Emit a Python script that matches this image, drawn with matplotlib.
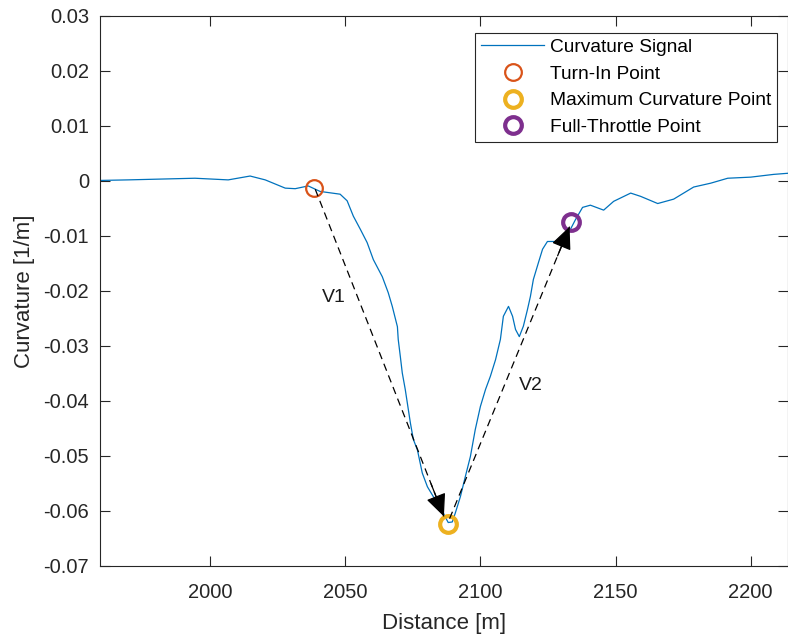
import matplotlib as mpl
mpl.use('Agg')
import matplotlib.pyplot as plt
import numpy as np

plt.rcParams['font.family'] = ['Liberation Sans', 'DejaVu Sans']

# curvature signal
distance = [1959.3, 1969.6, 1994.4, 2006.7, 2014.8, 2020.4, 2027.8, 2031.5, 2036.3, 2040.7,
            2048.1, 2050.7, 2053.0, 2055.6, 2058.1, 2060.4, 2063.7, 2065.9, 2067.4, 2069.3,
            2069.6, 2070.4, 2071.1, 2072.2, 2074.1, 2075.2, 2076.7, 2078.5, 2080.4, 2082.6,
            2085.2, 2087.0, 2088.1, 2089.6, 2090.7, 2092.6, 2094.4, 2096.3, 2098.1, 2100.0,
            2101.9, 2103.7, 2105.6, 2107.4, 2108.5, 2110.4, 2111.9, 2113.0, 2114.4, 2115.9,
            2117.4, 2118.5, 2119.6, 2121.5, 2123.0, 2124.8, 2127.8, 2129.6, 2131.5, 2133.3,
            2135.2, 2137.8, 2140.7, 2145.6, 2149.3, 2155.6, 2159.3, 2165.6, 2171.5, 2178.9,
            2185.2, 2191.5, 2200.0, 2208.5, 2213.7]
curvature = [0.0001, 0.0002, 0.0005, 0.0002, 0.0009, 0.0002, -0.0013, -0.0014, -0.0009, -0.0019,
             -0.0024, -0.0036, -0.0064, -0.0088, -0.0112, -0.0143, -0.0174, -0.0203, -0.0228, -0.0265,
             -0.0288, -0.0320, -0.0349, -0.0379, -0.0440, -0.0470, -0.0489, -0.0531, -0.0556, -0.0574,
             -0.0592, -0.0611, -0.0621, -0.0620, -0.0604, -0.0574, -0.0538, -0.0501, -0.0452, -0.0410,
             -0.0379, -0.0355, -0.0325, -0.0288, -0.0246, -0.0228, -0.0246, -0.0270, -0.0283, -0.0264,
             -0.0234, -0.0210, -0.0179, -0.0148, -0.0124, -0.0110, -0.0110, -0.0106, -0.0101, -0.0088,
             -0.0070, -0.0048, -0.0044, -0.0053, -0.0037, -0.0022, -0.0028, -0.0041, -0.0033, -0.0011,
             -0.0004, 0.0005, 0.0007, 0.0012, 0.0014]

turn_in = (2038.5, -0.0013)
max_curv = (2088.1, -0.0624)
full_throttle = (2133.7, -0.0075)

# vectors (start, tip) and their labels
v1 = [(2038.9, -0.0015), (2086.5, -0.0610)]
v2 = [(2088.6, -0.0614), (2133.0, -0.0083)]
vec_labels = ['V1', 'V2']
vec_label_pos = [(2045.6, -0.0212), (2118.5, -0.0371)]

xticks = [2000, 2050, 2100, 2150, 2200]
yticks = [0.03, 0.02, 0.01, 0, -0.01, -0.02, -0.03, -0.04, -0.05, -0.06, -0.07]

fig = plt.figure(figsize=(7.88, 6.37), dpi=100)
ax = fig.add_axes([0.127, 0.1115, 0.873, 0.8634])

ax.plot(distance, curvature, color='#0072BD', linewidth=0.9, label='Curvature Signal')
ax.plot(*turn_in, 'o', markersize=12, markerfacecolor='none', markeredgecolor='#D95319',
        markeredgewidth=1.6, label='Turn-In Point')
ax.plot(*max_curv, 'o', markersize=12, markerfacecolor='none', markeredgecolor='#EDB120',
        markeredgewidth=3, label='Maximum Curvature Point')
ax.plot(*full_throttle, 'o', markersize=12, markerfacecolor='none', markeredgecolor='#7E2F8E',
        markeredgewidth=3, label='Full-Throttle Point')

# dashed vectors with solid heads
for (start, tip), lab, pos in zip([v1, v2], vec_labels, vec_label_pos):
    ax.plot([start[0], tip[0]], [start[1], tip[1]], color='k', linewidth=0.9,
            dashes=(6, 4))
    back = (tip[0] - 0.1 * (tip[0] - start[0]), tip[1] - 0.1 * (tip[1] - start[1]))
    ax.annotate('', xy=tip, xytext=back,
                arrowprops=dict(arrowstyle='-|>,head_length=1.0,head_width=0.45',
                                color='k', linewidth=0.9, mutation_scale=14,
                                shrinkA=0, shrinkB=0))
    ax.text(pos[0], pos[1], lab, fontsize=14, ha='center', va='center', color='#1a1a1a')

ax.set_xlim(1959.3, 2213.8)
ax.set_ylim(-0.07, 0.03)
ax.set_xticks(xticks)
ax.set_yticks(yticks)
ax.set_yticklabels(['0.03', '0.02', '0.01', '0', '-0.01', '-0.02', '-0.03', '-0.04',
                    '-0.05', '-0.06', '-0.07'])
ax.tick_params(direction='in', length=7, width=0.8, top=True, right=True,
               labelsize=14.5, colors='#262626')
ax.tick_params(axis='x', pad=12)
ax.tick_params(axis='y', pad=8)
for s in ax.spines.values():
    s.set_color('#262626')
    s.set_linewidth(0.8)

ax.set_xlabel('Distance [m]', fontsize=16, color='#262626', labelpad=8)
ax.set_ylabel('Curvature [1/m]', fontsize=16, color='#262626', labelpad=6)

leg = ax.legend(loc='upper right', bbox_to_anchor=(0.984, 0.969), fontsize=13.8,
                fancybox=False, framealpha=1, edgecolor='#262626', borderpad=0.3,
                labelspacing=0.48, handlelength=3.3, handletextpad=0.3, borderaxespad=0)
leg.get_frame().set_linewidth(0.8)

plt.savefig('out.png', dpi=100)
plt.close('all')
